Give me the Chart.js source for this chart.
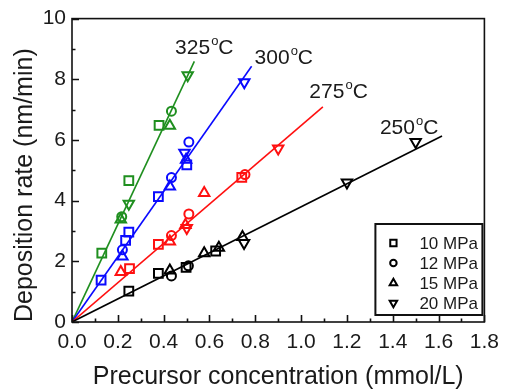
<!DOCTYPE html>
<html>
<head>
<meta charset="utf-8">
<script src="https://cdn.jsdelivr.net/npm/chart.js@4/dist/chart.umd.min.js"></script>
<style>
  body { margin: 0; background: #fff; }
  #wrap { width: 507px; height: 390px; }
</style>
</head>
<body>
<div id="wrap"><canvas id="depChart" width="507" height="390"></canvas></div>
<script>
// temperatures and pressures
const temps = ["250", "275", "300", "325"];
const pressures = ["10 MPa", "12 MPa", "15 MPa", "20 MPa"];
const xTicks = [0.0, 0.2, 0.4, 0.6, 0.8, 1.0, 1.2, 1.4, 1.6, 1.8];
const yTicks = [0, 2, 4, 6, 8, 10];

// [concentration (mmol/L), deposition rate (nm/min)]
const r250_10 = [[0.248, 1.02], [0.377, 1.6], [0.498, 1.8], [0.627, 2.34]];
const r250_12 = [[0.434, 1.52], [0.508, 1.85]];
const r250_15 = [[0.427, 1.7], [0.577, 2.27], [0.641, 2.45], [0.744, 2.8]];
const r250_20 = [[0.751, 2.6], [1.2, 4.6], [1.5, 5.93]];

const r275_10 = [[0.251, 1.76], [0.377, 2.56], [0.741, 4.77]];
const r275_12 = [[0.434, 2.85], [0.51, 3.56], [0.755, 4.86]];
const r275_15 = [[0.213, 1.65], [0.427, 2.65], [0.495, 3.2], [0.577, 4.25]];
const r275_20 = [[0.501, 3.1], [0.9, 5.72]];

const r300_10 = [[0.127, 1.38], [0.234, 2.69], [0.248, 2.96], [0.377, 4.13], [0.501, 5.18]];
const r300_12 = [[0.22, 2.38], [0.434, 4.76], [0.51, 5.93]];
const r300_15 = [[0.22, 2.16], [0.427, 4.47], [0.498, 5.35]];
const r300_20 = [[0.491, 5.58], [0.752, 7.9]];

const r325_10 = [[0.13, 2.27], [0.248, 4.66], [0.38, 6.48]];
const r325_12 = [[0.217, 3.47], [0.434, 6.95]];
const r325_15 = [[0.213, 3.38], [0.427, 6.47]];
const r325_20 = [[0.248, 3.9], [0.505, 8.13]];

// linear fits through the origin, end point of each drawn line
const fitEnd = [[1.615, 6.13], [1.095, 7.09], [0.784, 8.43], [0.534, 8.59]];

const series = [
  [r250_10, r250_12, r250_15, r250_20],
  [r275_10, r275_12, r275_15, r275_20],
  [r300_10, r300_12, r300_15, r300_20],
  [r325_10, r325_12, r325_15, r325_20],
];

const tempColors = ["#000000", "#ff1010", "#0a0aff", "#1f8f1f"];
const markerStyle = [
  { style: "rect", rot: 0, r: 6.2 },
  { style: "circle", rot: 0, r: 4.5 },
  { style: "triangle", rot: 0, r: 6 },
  { style: "triangle", rot: 180, r: 6 },
];
// where the temperature labels sit (data coords: left edge, baseline)
const labelAnchors = [[1.344, 6.2], [1.036, 7.38], [0.797, 8.49], [0.45, 8.82]];

const FONT = "'Liberation Sans', Arial, sans-serif";

const datasets = [];
temps.forEach((t, ti) => {
  datasets.push({
    label: t + " fit",
    data: [{ x: 0, y: 0 }, { x: fitEnd[ti][0], y: fitEnd[ti][1] }],
    showLine: true,
    borderColor: tempColors[ti],
    borderWidth: 1.6,
    pointRadius: 0,
    order: 2,
  });
  series[ti].forEach((pts, pi) => {
    const m = markerStyle[pi];
    datasets.push({
      label: t + " " + pressures[pi],
      data: pts.map(p => ({ x: p[0], y: p[1] })),
      showLine: false,
      pointStyle: m.style,
      rotation: m.rot,
      pointRadius: m.r,
      borderColor: tempColors[ti],
      backgroundColor: "rgba(0,0,0,0)",
      borderWidth: 2,
      order: 1,
    });
  });
});

function marker(ctx, style, rot, r, x, y) {
  ctx.fillStyle = "rgba(0,0,0,0)";
  if (Chart.helpers && Chart.helpers.drawPoint) {
    Chart.helpers.drawPoint(ctx, { pointStyle: style, rotation: rot, radius: r, borderWidth: 2 }, x, y);
  }
}

const decorPlugin = {
  id: "decor",
  afterDatasetsDraw(chart) {
    const { ctx, chartArea: a, scales } = chart;
    const xs = scales.x, ys = scales.y;
    ctx.save();
    ctx.strokeStyle = "#111";
    ctx.lineWidth = 1.6;
    ctx.strokeRect(a.left, a.top, a.right - a.left, a.bottom - a.top);

    // inward ticks
    ctx.beginPath();
    for (let i = 0; i <= 18; i++) {
      const px = Math.round(xs.getPixelForValue(i / 10)) + 0.5;
      const len = i % 2 === 0 ? 7 : 3.5;
      ctx.moveTo(px, a.bottom);
      ctx.lineTo(px, a.bottom - len);
    }
    for (let j = 0; j <= 10; j++) {
      const py = Math.round(ys.getPixelForValue(j)) + 0.5;
      const len = j % 2 === 0 ? 7 : 3.5;
      ctx.moveTo(a.left, py);
      ctx.lineTo(a.left + len, py);
    }
    ctx.stroke();

    // temperature labels with superscript o
    ctx.fillStyle = "#1a1a1a";
    ctx.textBaseline = "alphabetic";
    ctx.textAlign = "left";
    temps.forEach((t, ti) => {
      let x = xs.getPixelForValue(labelAnchors[ti][0]);
      const y = ys.getPixelForValue(labelAnchors[ti][1]);
      ctx.font = "21px " + FONT;
      ctx.fillText(t, x, y);
      x += ctx.measureText(t).width + 1;
      ctx.font = "13px " + FONT;
      ctx.fillText("o", x, y - 9);
      x += ctx.measureText("o").width;
      ctx.font = "21px " + FONT;
      ctx.fillText("C", x, y);
    });

    // legend box
    const bx = a.right - 109, by = a.bottom - 98, bw = 107, bh = 91;
    ctx.lineWidth = 2;
    ctx.strokeStyle = "#111";
    ctx.strokeRect(bx, by, bw, bh);
    ctx.font = "17px " + FONT;
    ctx.textBaseline = "middle";
    pressures.forEach((p, pi) => {
      const ry = by + 19 + pi * 20;
      const m = markerStyle[pi];
      ctx.strokeStyle = "#000";
      marker(ctx, m.style, m.rot, m.r * 0.72, bx + 18, ry);
      ctx.fillStyle = "#1a1a1a";
      ctx.fillText(p, bx + 44, ry + 1);
    });
    ctx.restore();
  },
};

new Chart(document.getElementById("depChart"), {
  type: "scatter",
  data: { datasets },
  options: {
    responsive: false,
    animation: false,
    layout: { padding: { top: 17, right: 15, left: 0, bottom: 0 } },
    plugins: { legend: { display: false }, tooltip: { enabled: false } },
    scales: {
      x: {
        type: "linear",
        min: 0,
        max: 1.8,
        afterFit: s => { s.height = 68; },
        afterBuildTicks: s => { s.ticks = xTicks.map(v => ({ value: v })); },
        grid: { display: false, drawTicks: false },
        border: { display: false },
        ticks: {
          padding: 8,
          color: "#1a1a1a",
          font: { family: FONT, size: 21 },
          callback: v => Number(v).toFixed(1),
          maxRotation: 0,
          autoSkip: false,
        },
        title: {
          display: true,
          text: "Precursor concentration (mmol/L)",
          color: "#1a1a1a",
          font: { family: FONT, size: 25, lineHeight: 1 },
          padding: 0,
        },
      },
      y: {
        min: 0,
        max: 10,
        afterFit: s => { s.width = 72; },
        afterBuildTicks: s => { s.ticks = yTicks.map(v => ({ value: v })); },
        grid: { display: false, drawTicks: false },
        border: { display: false },
        ticks: {
          padding: 6,
          color: "#1a1a1a",
          font: { family: FONT, size: 21 },
          autoSkip: false,
        },
        title: {
          display: true,
          text: "Deposition rate (nm/min)",
          align: "start",
          color: "#1a1a1a",
          font: { family: FONT, size: 25, lineHeight: 1 },
          padding: { top: 12.5, bottom: 0 },
        },
      },
    },
  },
  plugins: [decorPlugin],
});
</script>
</body>
</html>
